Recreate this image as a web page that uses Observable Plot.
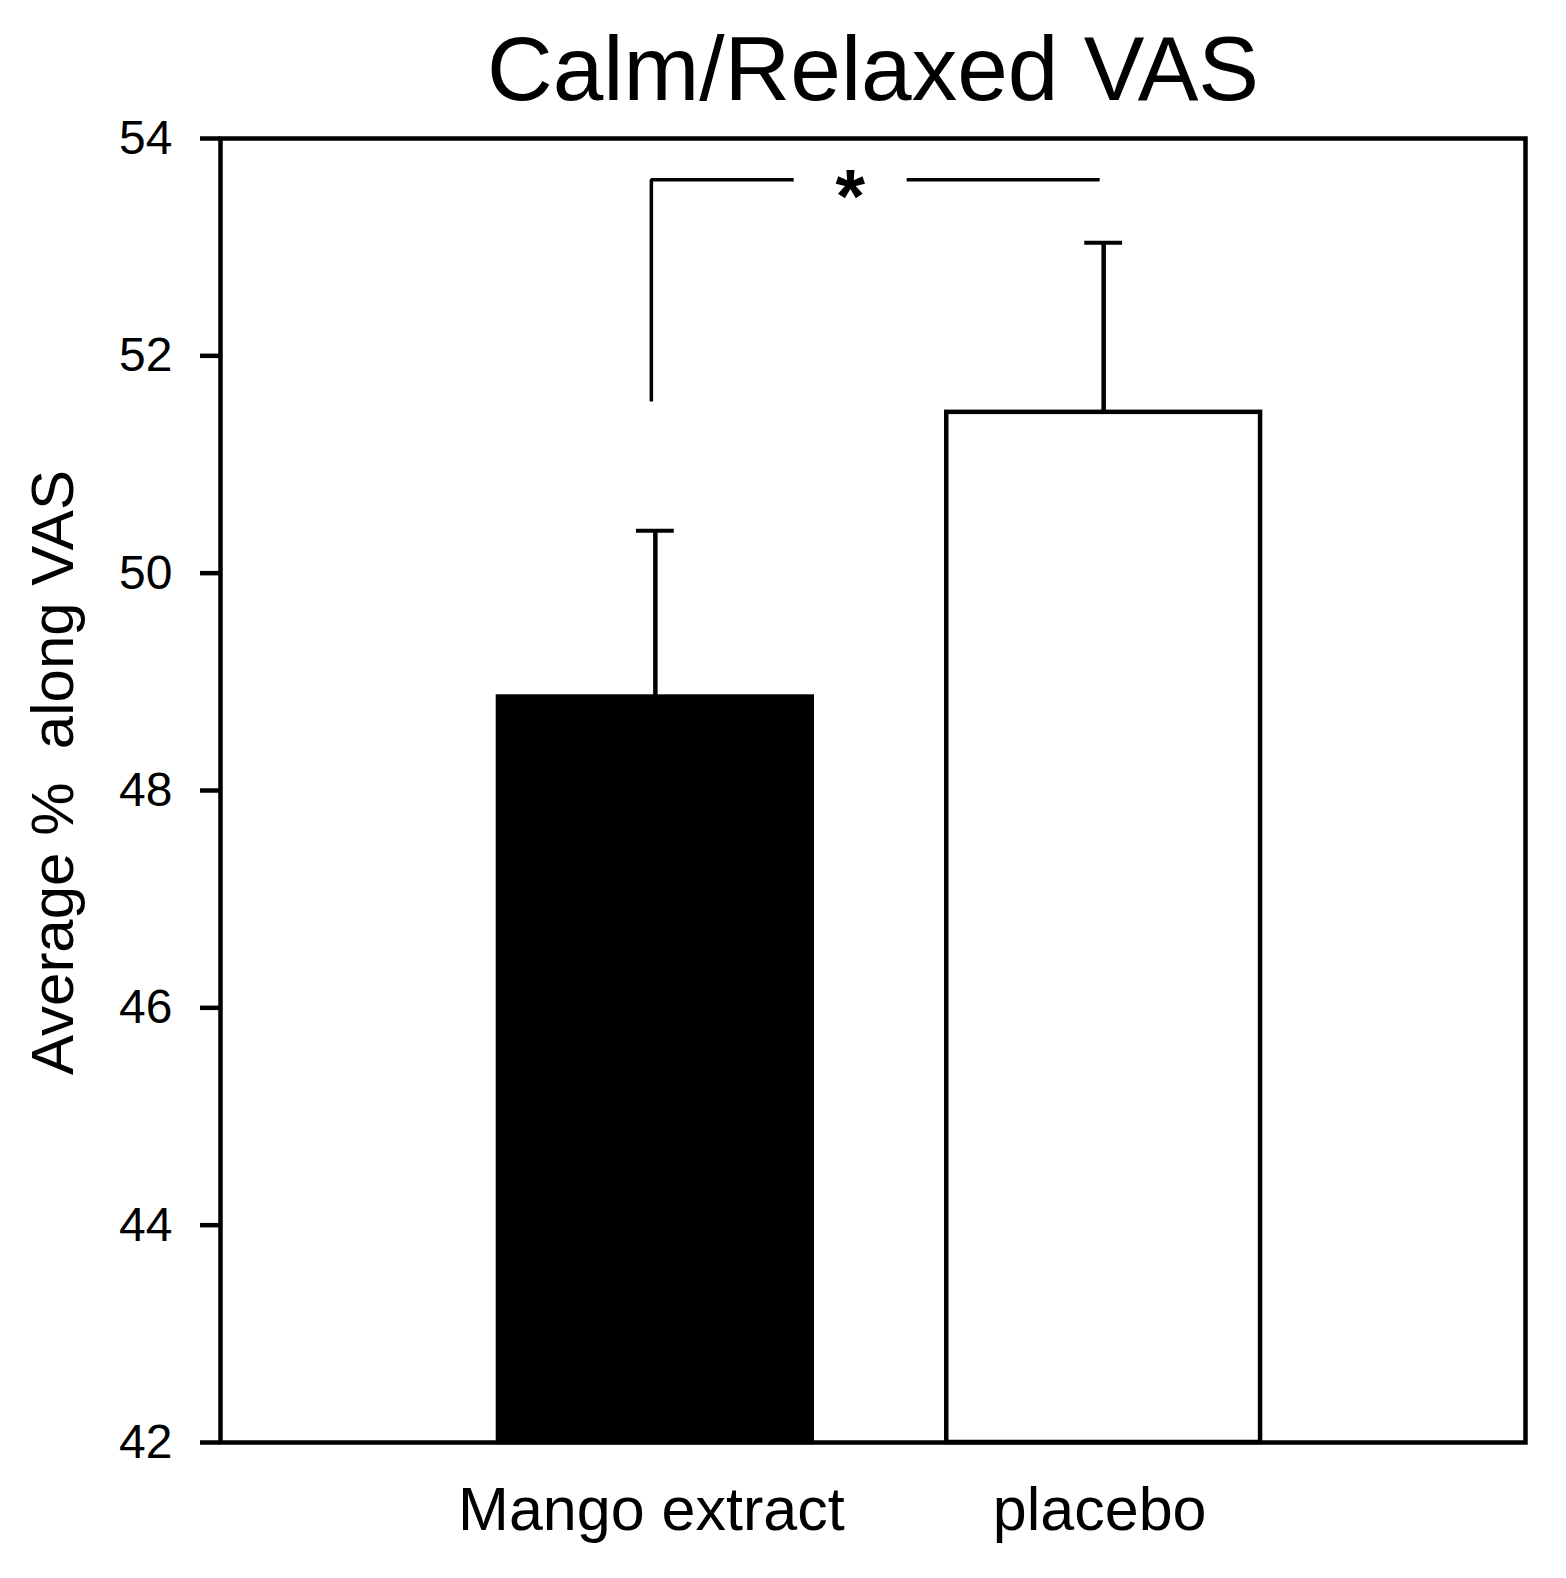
<!DOCTYPE html>
<html>
<head>
<meta charset="utf-8">
<script src="https://cdn.jsdelivr.net/npm/d3@7"></script>
<script src="https://cdn.jsdelivr.net/npm/@observablehq/plot@0.6"></script>
<style>
  html, body { margin: 0; padding: 0; background: white; }
  svg text { white-space: pre; }
</style>
</head>
<body>
<div id="chart"></div>
<script>
const title = "Calm/Relaxed VAS";
const yLabel = "Average %  along VAS";
const groups = ["Mango extract", "placebo"];
const means = [48.86, 51.48];
const sems = [1.53, 1.56];
const yTicks = [42, 44, 46, 48, 50, 52, 54];
const bracketGroups = ["Mango extract", "Mango extract", "placebo"];
const bracketValues = [51.58, 53.62, 53.62];
const sigLabel = "*";

const data = groups.map((g, i) => ({group: g, mean: means[i], top: means[i] + sems[i]}));
const bracket = bracketGroups.map((g, i) => ({group: g, value: bracketValues[i]}));

const font = "Liberation Sans, Arial, Helvetica, sans-serif";

const chart = Plot.plot({
  width: 1566,
  height: 1578,
  marginLeft: 220,
  marginRight: 41,
  marginTop: 138,
  marginBottom: 136,
  style: {fontFamily: font, fontSize: "48px", color: "black", background: "white", overflow: "visible"},
  x: {type: "band", domain: groups, paddingInner: 0.3, paddingOuter: 0.6055, align: 0.512, round: false, label: null},
  y: {domain: [42, 54], label: null},
  marks: [
    Plot.barY(data, {x: "group", y1: 42, y2: "mean", fill: d => d.group === groups[0] ? "black" : "white", stroke: "black", strokeWidth: 4.5}),
    Plot.ruleX(data, {x: "group", y1: "mean", y2: "top", stroke: "black", strokeWidth: 4.5}),
    Plot.tickY(data, {x: "group", y: "top", stroke: "black", strokeWidth: 4, insetLeft: 138, insetRight: 138}),
    Plot.line(bracket, {x: "group", y: "value", stroke: "black", strokeWidth: 3.5, dx: -4, strokeDasharray: "364 113 400", strokeLinejoin: "miter", strokeLinecap: "butt"}),
    Plot.text([sigLabel], {x: () => groups[0], y: () => bracketValues[1], text: d => d, dx: 195, dy: 18, fontSize: 76, fontWeight: "bold", lineAnchor: "middle"}),
    Plot.frame({stroke: "black", strokeWidth: 4.5}),
    Plot.axisY({ticks: yTicks, tickSize: 20, tickPadding: 28, fontSize: 48, stroke: "black", strokeWidth: 4.5, label: null}),
    Plot.axisX({tickSize: 0, tickPadding: 44, fontSize: 61, label: null, dx: -4}),
    Plot.text([yLabel], {frameAnchor: "left", text: d => d, rotate: -90, textAnchor: "middle", lineAnchor: "top", dx: -190, dy: -18, fontSize: 60}),
    Plot.text([title], {frameAnchor: "top", text: d => d, lineAnchor: "top", dy: -103, fontSize: 91})
  ]
});
document.getElementById("chart").appendChild(chart);
</script>
</body>
</html>
